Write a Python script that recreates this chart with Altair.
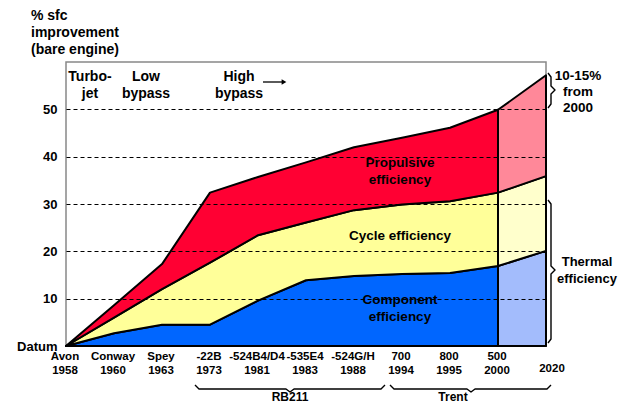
import altair as alt
import pandas as pd

# ---- data ----
engines = ["Avon", "Conway", "Spey", "-22B", "-524B4/D4", "-535E4", "-524G/H", "700", "800", "500", ""]
years = ["1958", "1960", "1963", "1973", "1981", "1983", "1988", "1994", "1995", "2000", "2020"]
component_top = [0, 2.7, 4.5, 4.5, 9.6, 13.9, 14.8, 15.2, 15.4, 16.9, 20.1]
cycle_top = [0, 6.0, 12.0, 17.6, 23.4, 26.1, 28.7, 29.9, 30.6, 32.4, 35.9]
propulsive_top = [0, 8.6, 17.3, 32.4, 35.7, 38.8, 42.0, 44.0, 46.1, 49.9, 57.2]
y_ticks = [0, 10, 20, 30, 40, 50]
split_index = 9  # year 2000: later part is projection

FONT = "Liberation Sans"
W, H = 480, 284
OX, OY = 66, 62           # plot origin on the page
XMAX, YMAX = 10, 60

def to_idx(px):
    return (px - OX) / (W / XMAX)

def to_val(py):
    return (OY + H - py) / (H / YMAX)

# ---- area table ----
rows = []
bands = [("Component", [0] * len(component_top), component_top),
         ("Cycle", component_top, cycle_top),
         ("Propulsive", cycle_top, propulsive_top)]
for name, lo, hi in bands:
    for i in range(len(engines)):
        if i <= split_index:
            rows.append(dict(idx=i, lo=lo[i], hi=hi[i], key=name + " now"))
        if i >= split_index:
            rows.append(dict(idx=i, lo=lo[i], hi=hi[i], key=name + " future"))
area_df = pd.DataFrame(rows)

xs = alt.Scale(domain=[0, XMAX], nice=False, zero=False)
ys = alt.Scale(domain=[0, YMAX], nice=False, zero=False)

color_scale = alt.Scale(
    domain=["Component now", "Cycle now", "Propulsive now",
            "Component future", "Cycle future", "Propulsive future"],
    range=["#0066FF", "#FFFF99", "#FF0033", "#A3BCFC", "#FFFFCC", "#FF8899"],
)

areas = alt.Chart(area_df).mark_area(
    stroke="black", strokeWidth=2, strokeJoin="round", opacity=1
).encode(
    x=alt.X("idx:Q", scale=xs, axis=None),
    y=alt.Y("hi:Q", scale=ys, axis=alt.Axis(
        values=y_ticks, labelExpr="datum.value == 0 ? 'Datum\u00a0' : datum.label",
        labelFont=FONT, labelFontWeight="bold", labelFontSize=13, labelColor="black",
        labelPadding=9, ticks=False, domain=False, grid=True, gridColor="black",
        gridDash=[4, 3], gridWidth=1, title=None, zindex=1)),
    y2="lo:Q",
    color=alt.Color("key:N", scale=color_scale, legend=None),
)

# ---- x category labels ----
lab_df = pd.DataFrame({"idx": list(range(len(engines) - 1)),
                       "t": [e + "\n" + y for e, y in zip(engines[:-1], years[:-1])]})
xlabels = alt.Chart(lab_df).mark_text(
    font=FONT, fontWeight="bold", fontSize=11.5, lineBreak="\n", lineHeight=14,
    baseline="middle", align="center", color="black", dx=-1
).encode(x=alt.X("idx:Q", scale=xs), y=alt.value(357 - OY), text="t:N")

last_df = pd.DataFrame({"idx": [len(years) - 1], "t": [years[-1]]})
xlabel_last = alt.Chart(last_df).mark_text(
    font=FONT, fontWeight="bold", fontSize=11.5, baseline="middle", align="center",
    color="black", dx=6
).encode(x=alt.X("idx:Q", scale=xs), y=alt.value(369 - OY), text="t:N")


def txt(s, px, py, size=13.5, align="center", lh=17):
    # py = centre of the first line
    return alt.Chart(pd.DataFrame({"t": [s]})).mark_text(
        align=align, baseline="middle", font=FONT, fontWeight="bold", fontSize=size,
        lineBreak="\n", lineHeight=lh, color="black"
    ).encode(x=alt.value(px - OX), y=alt.value(py - OY), text="t:N")


texts = [
    txt("% sfc\nimprovement\n(bare engine)", 31, 16, size=14, align="left", lh=17),
    txt("Turbo-\njet", 90, 77, size=14),
    txt("Low\nbypass", 146, 77, size=14),
    txt("High\nbypass", 239, 77, size=14),
    txt("Propulsive\nefficiency", 400, 163, size=13.5),
    txt("Cycle efficiency", 400, 236, size=13.5),
    txt("Component\nefficiency", 400, 300, size=13.5),
    txt("10-15%\nfrom\n2000", 578, 76, size=13.5, lh=16),
    txt("Thermal\nefficiency", 587, 262, size=13),
    txt("RB211", 290, 397, size=12),
    txt("Trent", 453, 397, size=12),
]

one = pd.DataFrame({"a": [0]})
arrow_line = alt.Chart(one).mark_rule(color="black", strokeWidth=1.3).encode(
    x=alt.value(263 - OX), x2=alt.value(283 - OX), y=alt.value(82 - OY))
arrow_head = alt.Chart(one).mark_point(
    shape="triangle-right", filled=True, size=30, color="black", opacity=1
).encode(x=alt.value(284 - OX), y=alt.value(82 - OY))

# ---- braces (drawn in data space) ----
def hbrace(bid, x0, x1, xc, ye, ym, yt):
    pts = [(x0, ye), (x0 + 4, ym), (xc - 4, ym), (xc, yt), (xc + 4, ym), (x1 - 4, ym), (x1, ye)]
    return [dict(id=bid, o=k, bx=to_idx(px), by=to_val(py)) for k, (px, py) in enumerate(pts)]

def vbrace(bid, y0, y1, yc, xe, xm, xt):
    pts = [(xe, y0), (xm, y0 + 4), (xm, yc - 4), (xt, yc), (xm, yc + 4), (xm, y1 - 4), (xe, y1)]
    return [dict(id=bid, o=k, bx=to_idx(px), by=to_val(py)) for k, (px, py) in enumerate(pts)]

brace_rows = (hbrace("rb", 195, 385, 290, 385, 389, 392)
              + hbrace("tr", 390, 551, 471, 385, 389, 392)
              + vbrace("v1", 73, 108, 90, 548, 551, 555)
              + vbrace("v2", 200, 343, 270, 548, 551, 555))
braces = alt.Chart(pd.DataFrame(brace_rows)).mark_line(
    color="black", strokeWidth=1.4, clip=False, strokeJoin="round"
).encode(
    x=alt.X("bx:Q", scale=xs),
    y=alt.Y("by:Q", scale=ys),
    detail="id:N",
    order="o:Q",
)

chart = alt.layer(areas, xlabels, xlabel_last, braces, arrow_line, arrow_head, *texts).properties(
    width=W, height=H,
    autosize=alt.AutoSizeParams(type="none"),
    padding={"left": OX - 8, "top": OY - 8, "right": 618 - OX - W, "bottom": 58},
    background="white",
).configure_view(stroke="#888888", strokeWidth=1.5)

chart.save("out.html", embed_options={"renderer": "svg", "actions": False})
